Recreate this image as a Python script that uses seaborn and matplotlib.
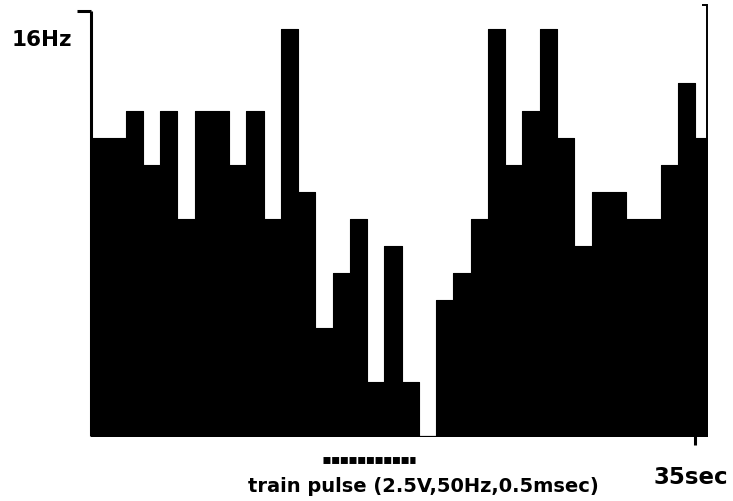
import numpy as np
import pandas as pd
import matplotlib
matplotlib.use("Agg")
import matplotlib.pyplot as plt
import matplotlib.transforms as mtransforms
import seaborn as sns

# Spike counts per 1-s bin (Hz), peristimulus time histogram
bin_start_sec = list(range(36))
rate_hz = [11, 11, 12, 10, 12, 8, 12, 12, 10, 12,
           8, 15, 9, 4, 6, 8, 2, 7, 2, 0,
           5, 6, 8, 15, 10, 12, 15, 11, 7, 9,
           9, 8, 8, 10, 13, 11]

# Stimulation period (s)
stim_on_sec = 13.45
stim_off_sec = 18.8

y_label = "16Hz"
x_label = "35sec"
stim_label = "train pulse (2.5V,50Hz,0.5msec)"

sns.set_style("white")
plt.rcParams["font.family"] = ["DejaVu Sans"]
plt.rcParams["text.color"] = "black"

W, H = 733, 501
fig = plt.figure(figsize=(W / 100, H / 100), dpi=100)
ax = fig.add_axes([91 / W, (H - 436) / H, (707 - 91) / W, (436 - 2) / H])

df = pd.DataFrame({"t": np.array(bin_start_sec, dtype=float) + 0.5,
                   "rate": rate_hz})
sns.histplot(data=df, x="t", weights="rate", binwidth=1, binrange=(0, 36),
             stat="count", element="step", fill=True, color="black",
             edgecolor="black", linewidth=0.8, alpha=1.0, ax=ax)

ax.set_xlim(0, 35.69)
ax.set_ylim(0, 16)
ax.set_xlabel("")
ax.set_ylabel("")
ax.set_yticks([])
ax.set_xticks([35])
ax.set_xticklabels([])
ax.tick_params(axis="x", direction="out", length=6.5, width=2.2,
               color="black", bottom=True)

for side in ("top", "bottom"):
    ax.spines[side].set_visible(False)
ax.spines["left"].set_bounds(0, 15.65)
ax.spines["left"].set_linewidth(2.2)
ax.spines["left"].set_color("black")
ax.spines["left"].set_capstyle("butt")
ax.spines["right"].set_bounds(0, 15.9)
ax.spines["right"].set_linewidth(1.4)
ax.spines["right"].set_color("black")

# Short caps at the top of both vertical scale lines
ax.plot([-0.8, 0], [15.65, 15.65], color="black", lw=2.2, clip_on=False,
        solid_capstyle="butt")
ax.plot([35.4, 35.69], [15.9, 15.9], color="black", lw=1.4, clip_on=False,
        solid_capstyle="butt")

# Stimulus marker below the time axis
trans = mtransforms.blended_transform_factory(ax.transData, ax.transAxes)
ax.plot([stim_on_sec, stim_off_sec], [-0.055, -0.055], color="black", lw=5,
        linestyle=(0, (1.0, 0.25)), transform=trans, clip_on=False,
        solid_capstyle="butt", dash_capstyle="butt")

fig.text(12 / W, 1 - 40 / H, y_label, ha="left", va="center",
         fontsize=15.5, fontweight="bold", color="black")
fig.text(691 / W, 1 - 478 / H, x_label, ha="center", va="center",
         fontsize=16.5, fontweight="bold", color="black")
fig.text(423 / W, 1 - 487 / H, stim_label, ha="center", va="center",
         fontsize=14, fontweight="bold", color="black")

fig.savefig("out.png", dpi=100, facecolor="white")
